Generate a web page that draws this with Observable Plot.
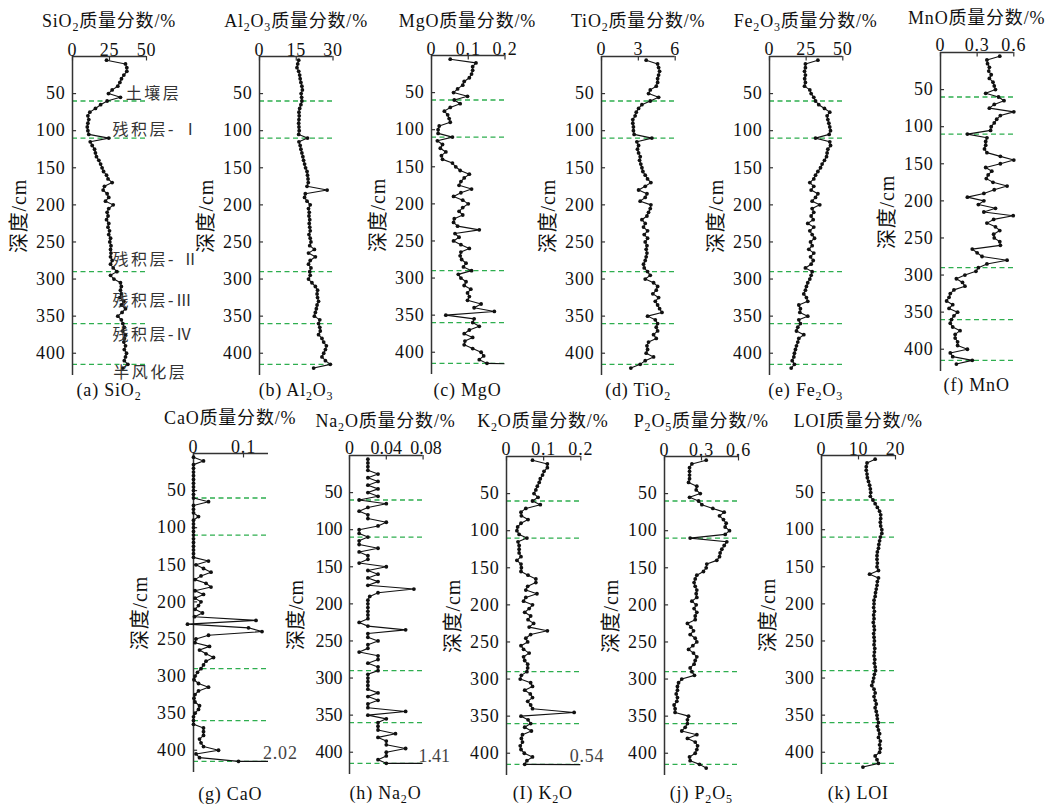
<!DOCTYPE html>
<html><head><meta charset="utf-8">
<script src="https://cdn.jsdelivr.net/npm/d3@7"></script>
<script src="https://cdn.jsdelivr.net/npm/@observablehq/plot@0.6"></script>
<style>
body{margin:0;background:#fff;}
#chart{position:relative;width:1051px;height:805px;overflow:hidden;font-family:"Liberation Serif","Noto Sans CJK SC",serif;color:#111;}
.lbl{position:absolute;transform:translate(-50%,-50%);white-space:nowrap;font-size:18px;line-height:1;letter-spacing:0.8px;}
.lbl sub{font-size:12px;vertical-align:-4px;line-height:0;}
.pan{position:absolute;}
.pan svg{max-width:none !important;}
</style></head>
<body><div id="chart"></div>
<script>
// depth of samples (cm)
const depths = [5,10,15,20,25,30,35,40,45,50,
 55,60,65,70,75,80,85,90,95,100,
 105,110,115,120,125,130,135,140,145,150,
 155,160,165,170,175,180,185,190,195,200,
 205,210,215,220,225,230,235,240,245,250,
 255,260,265,270,275,280,285,290,295,300,
 305,310,315,320,325,330,335,340,345,350,
 355,360,365,370,375,380,385,390,395,400,
 405,410,415,420];

const SiO2 = [23,35.8,36.7,36.7,34.7,33.1,32,30.6,26.8,24.3,
 32.4,23.4,19,15.5,11.7,10.4,11,10.4,10,10.4,
 11,24.5,12,13.3,14.9,15.5,16.2,17.8,19,20,
 21,23,24,26.8,21.6,20.7,23.4,24.5,22.3,27.5,
 24.5,23.4,24,23,24.5,24,25,24.5,25.7,25.2,
 26,25.7,26,25.7,26.8,25.7,27.5,30,25.7,28,
 32.4,33,32.4,33,32,34.7,33,35.8,33.5,30.6,
 33,34,35,34,35.8,35,34.7,35.8,35,36.5,
 35.8,35,37.4,34];
const Al2O3 = [16,15.6,15.3,16,16.4,16.6,16.9,17.3,17.5,17,
 17.2,17.3,16.9,16.4,16.1,16.2,16.1,16,16.1,16.2,
 16,19.6,16.1,16.6,16.9,17.3,17.7,18,18.4,18.8,
 19.4,19.6,19.8,19.9,19.4,27.6,18.7,18.4,19.4,20.7,
 20,20.3,20.2,20.5,20.3,20.5,20.7,20.2,20.7,21,
 20.5,22.4,20,22.8,20.7,20,21,20.5,20.7,20,
 21.4,22.8,23.7,23.5,23.7,24.1,23.5,23.2,22.8,22.4,
 24.6,24.1,24.6,24.8,24.1,25.5,26.2,27.3,26.9,26.2,
 25.5,26.9,28.9,22.1];
const MgO = [0.051,0.121,0.112,0.112,0.109,0.103,0.089,0.085,0.071,0.06,
 0.098,0.062,0.078,0.051,0.035,0.044,0.048,0.051,0.021,0.018,
 0.018,0.057,0.016,0.03,0.024,0.039,0.027,0.03,0.057,0.066,
 0.078,0.103,0.089,0.08,0.075,0.109,0.08,0.06,0.085,0.1,
 0.085,0.075,0.085,0.062,0.06,0.071,0.13,0.064,0.075,0.06,
 0.08,0.103,0.08,0.078,0.082,0.094,0.087,0.109,0.073,0.08,
 0.094,0.089,0.107,0.098,0.103,0.098,0.135,0.116,0.171,0.039,
 0.116,0.112,0.13,0.103,0.089,0.112,0.091,0.089,0.112,0.135,
 0.142,0.13,0.151,null];
const TiO2 = [3.64,4.57,4.65,4.73,4.65,4.57,4.57,4.46,3.97,3.83,
 4.65,3.97,3.29,3.02,2.83,2.74,2.55,2.55,2.6,2.6,
 2.66,4.1,2.88,3.02,2.93,3.02,3.15,3.1,3.2,3.29,
 3.37,3.56,3.75,4.02,3.56,3.02,3.7,3.56,3.15,4.02,
 3.97,3.83,3.7,3.29,3.56,3.42,3.75,3.48,3.75,3.56,
 3.7,3.64,3.7,3.64,3.56,3.42,3.48,3.75,3.97,3.56,
 4.24,4.57,4.46,4.18,4.65,4.38,4.57,4.73,4.92,3.75,
 4.38,4.57,4.46,4.57,4.24,4.46,3.83,3.7,3.75,3.64,
 4.24,3.56,3.15,2.39];
const Fe2O3 = [33,24.5,24.5,23.9,24.5,24,24.5,23.9,27.5,28.4,
 30.2,31.4,33.6,37.5,41.1,39.3,39.8,40.5,41.1,41.6,
 40.7,31.4,41.1,41.6,39.8,39.3,38.9,37.5,35.9,34.8,
 33,31.4,30.2,27.5,30.2,28.4,33,31.4,29.1,34.3,
 29.1,30.2,28.4,29.8,26.1,30.2,27.5,29.1,30.7,28,
 29.1,26.8,30.2,28,29.8,28.4,24.5,29.1,28.4,27.5,
 26.1,25.2,24.5,23.4,25.2,26.1,20,21.1,20.7,26.1,
 20,21.1,19.3,18.4,23.4,20,19.3,18.4,17.7,17,
 16.6,15.5,17,14.8];
const MnO = [0.485,0.38,0.385,0.4,0.395,0.415,0.4,0.43,0.44,0.45,
 0.37,0.475,0.52,0.44,0.4,0.6,0.49,0.46,0.44,0.415,
 0.41,0.22,0.38,0.37,0.37,0.36,0.38,0.49,0.6,0.49,
 0.37,0.42,0.39,0.375,0.43,0.545,0.44,0.355,0.22,0.355,
 0.31,0.45,0.355,0.595,0.435,0.38,0.45,0.485,0.435,0.44,
 0.485,0.49,0.26,0.3,0.34,0.545,0.38,0.31,0.29,0.2,
 0.13,0.18,0.2,0.11,0.08,0.07,0.05,0.1,0.07,0.14,
 0.11,0.09,0.08,0.1,0.16,0.12,0.12,0.14,0.14,0.22,
 0.08,0.1,0.26,0.13];
const CaO = [0,0.02,0,0,0,0,0,0,0,0,
 0,0,0.03,0,0,0,0.01,0,0,0,
 0,0,0,0,0,0,0,0,0.03,0.005,
 0.02,0.035,0.015,0.003,0.025,0.035,0.003,0.02,0.003,0.015,
 0.01,0.003,0.018,0.002,0.125,-0.012,0.11,0.137,0.03,0.005,
 0.003,0.032,0.012,0.025,0.04,0.025,0.02,0.015,0.008,0.003,
 0.001,0.01,0.03,0.01,0.003,0.001,0.003,0.012,0.01,0.003,
 0,0,0,0.02,0.02,0.02,0.012,0.015,0.02,0.05,
 0.005,0.012,0.09,null];
const Na2O = [0.02,0.02,0.02,0.02,0.031,0.02,0.031,0.02,0.031,0.02,
 0.031,0.0105,0.04,0.02,0.0105,0.02,0.02,0.04,0.031,0.0105,
 0.0105,0.02,0.0105,0.0105,0.031,0.0105,0.02,0.02,0.0105,0.04,
 0.02,0.031,0.02,0.031,0.02,0.07,0.031,0.022,0.02,0.02,
 0.02,0.02,0.02,0.02,0.0105,0.02,0.061,0.02,0.02,0.031,
 0.02,0.02,0.0105,0.031,0.031,0.02,0.031,0.031,0.02,0.02,
 0.02,0.02,0.02,0.031,0.02,0.031,0.02,0.02,0.061,0.02,
 0.04,0.031,0.031,0.031,0.05,0.031,0.04,0.04,0.061,0.04,
 0.04,0.031,0.04,null];
const K2O = [0.07,0.11,0.11,0.101,0.097,0.091,0.088,0.083,0.079,0.074,
 0.085,0.07,0.091,0.052,0.039,0.04,0.058,0.039,0.03,0.028,
 0.034,0.055,0.031,0.034,0.034,0.034,0.039,0.028,0.039,0.04,
 0.039,0.058,0.079,0.079,0.057,0.052,0.082,0.052,0.046,0.07,
 0.061,0.049,0.065,0.058,0.073,0.061,0.11,0.065,0.052,0.057,
 0.039,0.046,0.061,0.046,0.049,0.057,0.057,0.055,0.04,0.037,
 0.065,0.07,0.049,0.064,0.07,0.057,0.065,0.07,0.182,0.039,
 0.058,0.065,0.049,0.067,0.043,0.04,0.043,0.037,0.039,0.048,
 0.07,0.055,0.049,null];
const P2O5 = [0.338,0.222,0.203,0.203,0.203,0.203,0.195,0.262,0.257,0.29,
 0.203,0.276,0.303,0.392,0.484,0.446,0.478,0.5,0.492,0.527,
 0.492,0.208,0.505,0.484,0.465,0.451,0.446,0.424,0.343,0.338,
 0.316,0.262,0.249,0.24,0.249,0.262,0.257,0.262,0.222,0.257,
 0.24,0.262,0.249,0.249,0.186,0.214,0.235,0.208,0.249,0.262,
 0.23,0.195,0.235,0.262,0.249,0.24,0.208,0.222,0.243,0.14,
 0.114,0.105,0.105,0.095,0.105,0.1,0.078,0.086,0.086,0.195,
 0.186,0.186,0.168,0.14,0.262,0.186,0.249,0.268,0.262,0.249,
 0.203,0.208,0.284,0.338];
const LOI = [14.5,12.3,12.1,12.1,12.3,12.4,12.7,13,13.2,13.3,
 13.2,13.9,14.5,15.1,15.7,16,16,15.9,16,16.3,
 16.3,15.9,15.7,15.5,15.4,15.1,15,15,15.1,15,
 15.4,13,15.4,15.1,15,14.8,14.6,14.5,14.2,14.2,
 14.1,14.3,14.1,14.2,14,14.2,14.3,14.1,14.2,14.3,
 14.2,14.4,14.3,14.2,14.4,14.3,14.5,14.6,14.3,14.1,
 13.9,13.6,14.2,14.5,14.2,14.5,14.8,14.5,14.8,15,
 15.1,15.4,15.1,15.4,15.7,15.4,15.9,15.7,15.9,15.7,
 14.5,15,15.4,11.2];

// off-scale last samples (beyond the x axis)
const offSeries = ["MgO","CaO","Na2O","K2O"];
const offDepth = [416,416,416,416];
const offValue = [0.25,2.02,1.41,0.54];
const offLabel = ["","2.02","1.41","0.54"];

// layer boundaries and names
const boundaries = [60,110,290,360,415];
const layerNames = ["土壤层","残积层- Ⅰ","残积层- Ⅱ","残积层-Ⅲ","残积层-Ⅳ","半风化层"];
const layerDepth = [50,99,274,330,375,426];
const layerX = [36,27,27,27,27,27.5];

const yTicks = [50,100,150,200,250,300,350,400];

const series = {SiO2,Al2O3,MgO,TiO2,Fe2O3,MnO,CaO,Na2O,K2O,P2O5,LOI};

const panels = [
 {k:"SiO2", t:"SiO<sub>2</sub>", tag:"(a)", max:50, ticks:[0,25,50], ax:72, y0:55.5, w:74, ty:21, cy:390, layers:true},
 {k:"Al2O3", t:"Al<sub>2</sub>O<sub>3</sub>", tag:"(b)", max:30, ticks:[0,15,30], ax:259.3, y0:55.5, w:73.5, ty:21, cy:390},
 {k:"MgO", t:"MgO", tag:"(c)", max:0.2, ticks:[0,0.1,0.2], ax:430.7, y0:55, w:73.5, ty:21, cy:390},
 {k:"TiO2", t:"TiO<sub>2</sub>", tag:"(d)", max:6, ticks:[0,3,6], ax:601.3, y0:55.5, w:73.7, ty:21, cy:390},
 {k:"Fe2O3", t:"Fe<sub>2</sub>O<sub>3</sub>", tag:"(e)", max:50, ticks:[0,25,50], ax:769, y0:55.5, w:73.3, ty:21, cy:390},
 {k:"MnO", t:"MnO", tag:"(f)", max:0.6, ticks:[0,0.3,0.6], ax:940, y0:51.6, w:73.3, ty:18, cy:385},
 {k:"CaO", t:"CaO", tag:"(g)", max:0.15, ticks:[0,0.1], ax:192.7, y0:453, w:75, ty:418, cy:794, lx:0.139, ly:404},
 {k:"Na2O", t:"Na<sub>2</sub>O", tag:"(h)", max:0.08, ticks:[0,0.04,0.08], ax:348.7, y0:455, w:73.6, ty:421, cy:793, lx:0.075, ly:405, tight:true},
 {k:"K2O", t:"K<sub>2</sub>O", tag:"(I)", max:0.2, ticks:[0,0.1,0.2], ax:505.7, y0:455.5, w:74.3, ty:421, cy:793, lx:0.17, ly:404},
 {k:"P2O5", t:"P<sub>2</sub>O<sub>5</sub>", tag:"(j)", max:0.6, ticks:[0,0.3,0.6], ax:664.3, y0:456, w:74, ty:421, cy:793},
 {k:"LOI", t:"LOI", tag:"(k)", max:20, ticks:[0,10,20], ax:821.3, y0:455, w:74, ty:421, cy:793},
];

const chart = document.getElementById("chart");
const FONT = '"Liberation Serif","Noto Sans CJK SC",serif';
const mL = 72, mR = 80, mT = 40, mB = 40, H = 319;

for (const p of panels) {
  const vals = series[p.k];
  const pts = depths.map((d,i)=>({d, v: vals[i]})).filter(o => o.v != null);
  const marks = [
    Plot.ruleY(boundaries, {stroke:"#2eae4f", strokeWidth:1.3, strokeDasharray:"5,3.5"}),
    Plot.ruleX([0], {stroke:"#333", strokeWidth:1.5}),
    Plot.ruleY([0], {stroke:"#333", strokeWidth:1.5}),
    Plot.ruleX(p.ticks, {y1:0, y2:6, stroke:"#333", strokeWidth:1.2}),
    Plot.ruleY(yTicks, {x1:0, x2:p.max*0.055, stroke:"#333", strokeWidth:1.2}),
    Plot.line(pts, {x:"v", y:"d", stroke:"#111", strokeWidth:1.1}),
    Plot.dot(pts, {x:"v", y:"d", r:1.9, fill:"#111", stroke:"none"}),
    Plot.text(["深度/cm"], {frameAnchor:"left", textAnchor:"middle", rotate:-90, dx:-53, fontSize:20, fill:"#111"})
  ];
  const oi = offSeries.indexOf(p.k);
  if (oi >= 0) {
    const last = pts[pts.length-1];
    const tail = [last, {d: offDepth[oi], v: offValue[oi]}];
    marks.push(Plot.line(tail, {x:"v", y:"d", stroke:"#111", strokeWidth:1.1, clip:true}));
    if (offLabel[oi]) marks.push(Plot.text([offLabel[oi]], {x: p.lx, y: p.ly, textAnchor:"start", fontSize:18, fill:"#444"}));
  }
  if (p.layers) {
    marks.push(Plot.text(layerNames, {x:(d,i)=>layerX[i], y:(d,i)=>layerDepth[i], textAnchor:"start", fontSize:16, fill:"#333"}));
  }
  const svg = Plot.plot({
    width: mL + p.w + mR, height: mT + H + mB,
    marginLeft: mL, marginRight: mR, marginTop: mT, marginBottom: mB,
    style: {background:"none", overflow:"visible", fontFamily: FONT, fontSize:"18px", color:"#111", letterSpacing: p.tight ? "0px" : "0.8px", maxWidth:"none"},
    x: {domain:[0,p.max], axis:"top", ticks:p.ticks, tickFormat:d=>String(d), tickSize:0, tickPadding:1, label:null},
    y: {domain:[0,430], reverse:true, ticks:yTicks, tickFormat:d=>String(d), tickSize:0, tickPadding:7, label:null},
    marks
  });
  if (p.layers) {
    d3.select(svg).selectAll("text").filter(function(){ return layerNames.includes(this.textContent); })
      .attr("letter-spacing", "2.5px");
  }
  if (p.tight) {
    d3.select(svg).selectAll("text").filter(function(){ return this.textContent === "0.08"; })
      .attr("dx", "3");
  }
  const holder = document.createElement("div");
  holder.className = "pan";
  holder.style.left = (p.ax - mL) + "px";
  holder.style.top = (p.y0 - mT) + "px";
  holder.style.width = (mL + p.w + mR) + "px";
  holder.appendChild(svg);
  chart.appendChild(holder);

  const title = document.createElement("div");
  title.className = "lbl";
  title.style.left = (p.ax + p.w/2) + "px";
  title.style.top = p.ty + "px";
  title.innerHTML = p.t + "质量分数/%";
  chart.appendChild(title);

  const cap = document.createElement("div");
  cap.className = "lbl";
  cap.style.left = (p.ax + p.w/2) + "px";
  cap.style.top = p.cy + "px";
  cap.innerHTML = p.tag + " " + p.t;
  chart.appendChild(cap);
}
</script></body></html>
